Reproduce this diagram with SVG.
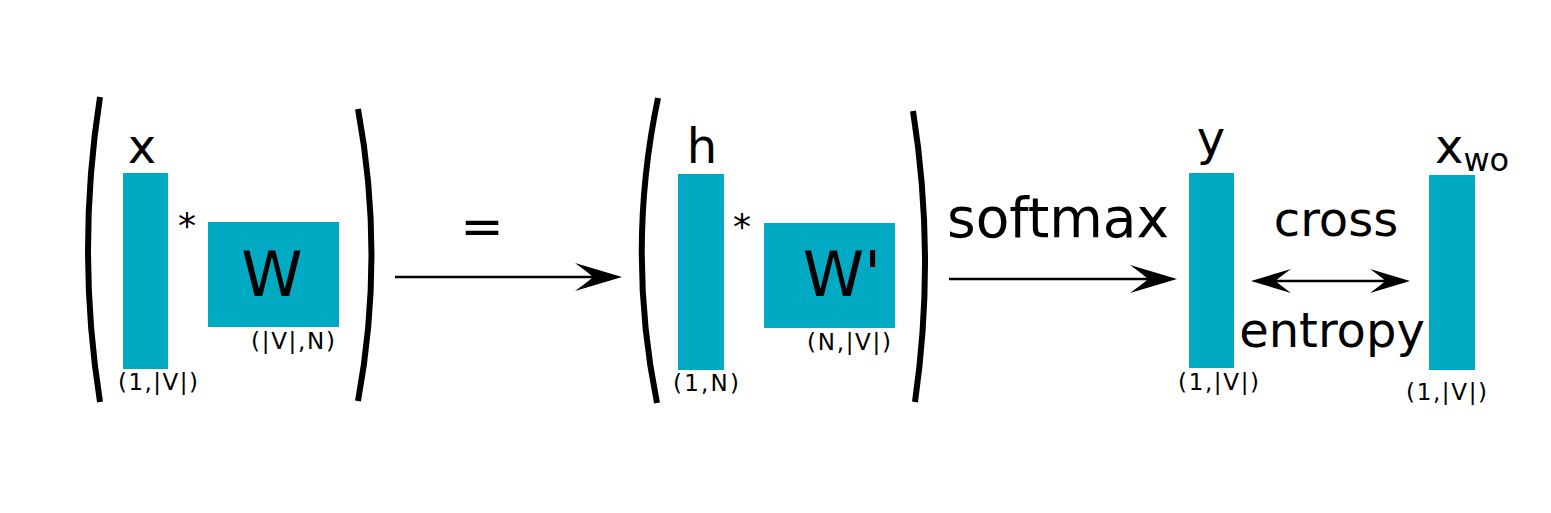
<svg xmlns="http://www.w3.org/2000/svg" width="1551" height="513" viewBox="0 0 1551 513">
<style>
.m{fill:#00aac2}
.t{font-family:"DejaVu Sans",sans-serif;fill:#000}
.big{font-size:48px}
.sm{font-size:23px}
.star{font-size:36px}
.par{fill:none;stroke:#000;stroke-width:6}
.ln{fill:none;stroke:#000;stroke-width:2.5}
</style>
<defs>
<path id="ah" d="M0,0 L-47,-14 Q-32,-3 -29,0 Q-32,3 -47,14 Z" fill="#000"/>
</defs>
<rect width="1551" height="513" fill="#fff"/>
<g id="paren-1"><path class="par" d="M100,97 Q76,250 100,402"/><path class="par" d="M358,109 Q385,255 358,401"/></g>
<g id="node-x">
<rect class="m" x="123" y="173" width="45" height="196"/>
<text class="t big" x="142" y="163" text-anchor="middle">x</text>
<text class="t sm" x="118" y="390" textLength="80" lengthAdjust="spacing">(1,|V|)</text>
</g>
<g id="op-star-1"><text class="t star" x="187" y="238" text-anchor="middle">*</text></g>
<g id="node-W">
<rect class="m" x="208" y="222" width="131" height="105"/>
<text class="t" style="font-size:62px" x="272" y="296" text-anchor="middle">W</text>
<text class="t sm" x="251" y="349" textLength="84" lengthAdjust="spacing">(|V|,N)</text>
</g>
<g id="op-eq"><text class="t" style="font-size:52px" x="482" y="244" text-anchor="middle">=</text></g>
<g id="paren-2"><path class="par" d="M658,98 Q626,250 657,403"/><path class="par" d="M913,111 Q936,256 915,402"/></g>
<g id="node-h">
<rect class="m" x="678" y="174" width="46" height="196"/>
<text class="t big" x="702" y="163" text-anchor="middle">h</text>
<text class="t sm" x="673" y="391" textLength="66" lengthAdjust="spacing">(1,N)</text>
</g>
<g id="op-star-2"><text class="t star" x="742" y="239" text-anchor="middle">*</text></g>
<g id="node-Wp">
<rect class="m" x="764" y="223" width="131" height="105"/>
<text class="t" style="font-size:62px" x="842" y="296" text-anchor="middle">W'</text>
<text class="t sm" x="807" y="350" textLength="84" lengthAdjust="spacing">(N,|V|)</text>
</g>
<g id="node-y">
<rect class="m" x="1189" y="173" width="45" height="195"/>
<text class="t big" x="1211" y="155" text-anchor="middle">y</text>
<text class="t sm" x="1178" y="390" textLength="81" lengthAdjust="spacing">(1,|V|)</text>
</g>
<g id="node-xwo">
<rect class="m" x="1429" y="175" width="46" height="195"/>
<text class="t big" x="1435" y="163">x<tspan style="font-size:32px" dy="8">wo</tspan></text>
<text class="t sm" x="1406" y="400" textLength="81" lengthAdjust="spacing">(1,|V|)</text>
</g>
<g id="connectors">
<line class="ln" x1="395" y1="277" x2="600" y2="277"/>
<use href="#ah" transform="translate(622,277)"/>
<line class="ln" x1="949" y1="279" x2="1155" y2="279"/>
<use href="#ah" transform="translate(1177,279)"/>
<text class="t" style="font-size:55px" x="947" y="237">softmax</text>
<line class="ln" x1="1275" y1="281" x2="1385" y2="281"/>
<use href="#ah" transform="translate(1410,281) scale(0.85)"/>
<use href="#ah" transform="translate(1251,281) scale(-0.85,0.85)"/>
<text class="t big" x="1336" y="236" text-anchor="middle">cross</text>
<text class="t big" x="1332" y="347" text-anchor="middle">entropy</text>
</g>
</svg>
